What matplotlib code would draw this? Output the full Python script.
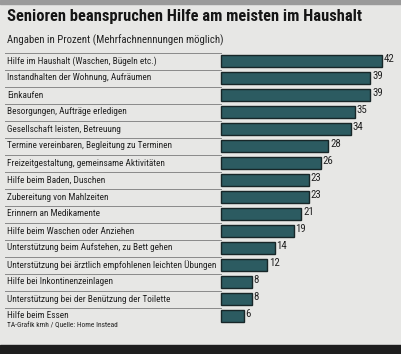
import matplotlib
matplotlib.use("Agg")
import matplotlib.pyplot as plt
from matplotlib import font_manager as fm

# ── Data ────────────────────────────────────────────────────────────────
LABELS = [
    "Hilfe im Haushalt (Waschen, Bügeln etc.)",
    "Instandhalten der Wohnung, Aufräumen",
    "Einkaufen",
    "Besorgungen, Aufträge erledigen",
    "Gesellschaft leisten, Betreuung",
    "Termine vereinbaren, Begleitung zu Terminen",
    "Freizeitgestaltung, gemeinsame Aktivitäten",
    "Hilfe beim Baden, Duschen",
    "Zubereitung von Mahlzeiten",
    "Erinnern an Medikamente",
    "Hilfe beim Waschen oder Anziehen",
    "Unterstützung beim Aufstehen, zu Bett gehen",
    "Unterstützung bei ärztlich empfohlenen leichten Übungen",
    "Hilfe bei Inkontinenzeinlagen",
    "Unterstützung bei der Benützung der Toilette",
    "Hilfe beim Essen",
]
VALUES = [42, 39, 39, 35, 34, 28, 26, 23, 23, 21, 19, 14, 12, 8, 8, 6]

TITLE = "Senioren beanspruchen Hilfe am meisten im Haushalt"
SUBTITLE = "Angaben in Prozent (Mehrfachnennungen möglich)"
SOURCE = "TA-Grafik kmh / Quelle: Home Instead"

# ── Style ───────────────────────────────────────────────────────────────
BG = "#e7e7e5"
BAR = "#2c5b61"
EDGE = "#172628"
TXT = "#222222"
SEP = "#8a8a8a"


def pick_font(cands):
    for c in cands:
        try:
            fm.findfont(fm.FontProperties(family=c), fallback_to_default=False)
            return c
        except Exception:
            pass
    return "DejaVu Sans"


FONT = [pick_font(["Liberation Sans Narrow", "Roboto Condensed",
                   "Open Sans Condensed", "Liberation Sans"]), "DejaVu Sans"]

W, H = 401, 354
fig = plt.figure(figsize=(W / 100, H / 100), dpi=100, facecolor=BG)


def fx(px):
    return px / W


def fy(py):
    return 1 - py / H


# top / bottom scan strips
fig.patches.append(plt.Rectangle((0, fy(4)), 1, 4 / H, transform=fig.transFigure,
                                 color="#9a9a9a", zorder=0))
fig.patches.append(plt.Rectangle((0, 0), 1, 9 / H, transform=fig.transFigure,
                                 color="#1e1e1e", zorder=0))

t_title = fig.text(fx(7), fy(17), TITLE, fontsize=12.5, fontweight="bold",
                   color="#151515", family=FONT, va="center", ha="left")
t_sub = fig.text(fx(7), fy(40), SUBTITLE, fontsize=6.8, color=TXT, family=FONT,
                 va="center", ha="left")
t_src = fig.text(fx(7), fy(326), SOURCE, fontsize=5, color=TXT, family=FONT,
                 va="center", ha="left")

n = len(VALUES)
top, row_h = 52.5, 17.0
x0, scale = 221.0, 3.83
left_px = 5.0
xmax = 48
ax = fig.add_axes([fx(left_px), fy(top + n * row_h),
                   fx(x0 + scale * xmax) - fx(left_px), n * row_h / H])
ax.set_facecolor("none")
ax.set_xlim(-(x0 - left_px) / scale, xmax)
ax.set_ylim(n, 0)
ax.axis("off")

ys = [i + 0.5 for i in range(n)]
ax.barh(ys, VALUES, height=0.66, left=0, color=BAR, edgecolor=EDGE, linewidth=1.0)
labs = []
for y, v, lab in zip(ys, VALUES, LABELS):
    ax.text(v + 0.45, y - 0.12, str(v), fontsize=7.8, color=TXT, family=FONT,
            va="center", ha="left")
    labs.append(ax.text(-(x0 - left_px - 2) / scale, y, lab, fontsize=6.8,
                        color=TXT, family=FONT, va="center", ha="left"))
for i in range(n):
    ax.plot([-(x0 - left_px) / scale, 0], [i, i], color=SEP, linewidth=0.7)

# fit text widths to the reference's pixel widths
fig.canvas.draw()
r = fig.canvas.get_renderer()


def fit(t, target):
    w = t.get_window_extent(r).width
    t.set_fontsize(t.get_fontsize() * target / w)


fit(t_title, 355)
fit(t_sub, 217)
fit(t_src, 113)
k = 212 / labs[12].get_window_extent(r).width
for t in labs:
    t.set_fontsize(t.get_fontsize() * k)

fig.savefig("out.png", dpi=100, facecolor=BG)
